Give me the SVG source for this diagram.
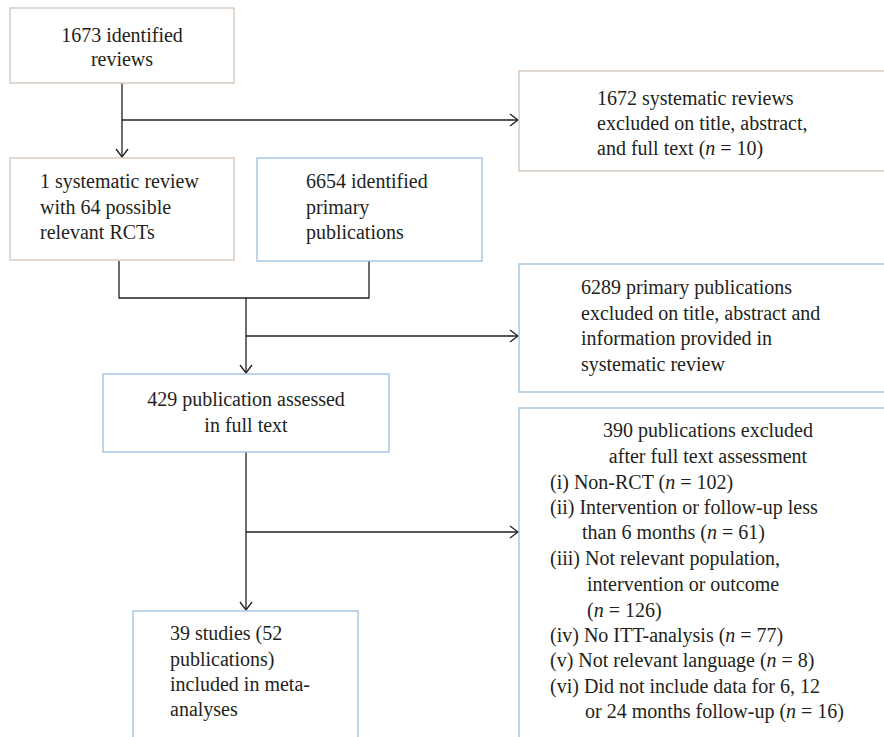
<svg xmlns="http://www.w3.org/2000/svg" width="884" height="737" viewBox="0 0 884 737">
<style>
text{font-family:"Liberation Serif","Times New Roman",serif;font-size:20px;fill:#231f20}
.c{text-anchor:middle}
.i{font-style:italic}
.tan{fill:#fff;stroke:#d6c8bd;stroke-width:1.4}
.blu{fill:#fff;stroke:#a3c3e0;stroke-width:1.4}
.ln{fill:none;stroke:#231f20;stroke-width:1.3}
</style>
<defs>
<marker id="ar" viewBox="0 0 10 14" refX="9" refY="7" markerWidth="10" markerHeight="14" markerUnits="userSpaceOnUse" orient="auto">
<path d="M1,1 L9,7 L1,13" fill="none" stroke="#231f20" stroke-width="1.3"/>
</marker>
</defs>
<rect width="884" height="737" fill="#fff"/>
<g id="connectors">
<path class="ln" d="M122,83 V157" marker-end="url(#ar)"/>
<path class="ln" d="M122,120 H518" marker-end="url(#ar)"/>
<path class="ln" d="M119,261 V298 H369 V261"/>
<path class="ln" d="M246,298 V373" marker-end="url(#ar)"/>
<path class="ln" d="M246,336 H518" marker-end="url(#ar)"/>
<path class="ln" d="M246,452 V610" marker-end="url(#ar)"/>
<path class="ln" d="M246,532 H518" marker-end="url(#ar)"/>
</g>
<g id="n1">
<rect class="tan" x="10" y="8" width="224" height="75"/>
<text class="c" x="122" y="42">1673 identified</text>
<text class="c" x="122" y="66">reviews</text>
</g>
<g id="n2">
<rect class="tan" x="519" y="71" width="371" height="100"/>
<text x="597" y="105">1672 systematic reviews</text>
<text x="597" y="130">excluded on title, abstract,</text>
<text x="597" y="155">and full text (<tspan class="i">n</tspan> = 10)</text>
</g>
<g id="n3">
<rect class="tan" x="10" y="158" width="224" height="102"/>
<text x="40" y="188">1 systematic review</text>
<text x="40" y="214">with 64 possible</text>
<text x="40" y="239">relevant RCTs</text>
</g>
<g id="n4">
<rect class="blu" x="257" y="158" width="225" height="103"/>
<text x="306" y="188">6654 identified</text>
<text x="306" y="214">primary</text>
<text x="306" y="239">publications</text>
</g>
<g id="n5">
<rect class="blu" x="519" y="264" width="371" height="128"/>
<text x="581" y="294">6289 primary publications</text>
<text x="581" y="320">excluded on title, abstract and</text>
<text x="581" y="345">information provided in</text>
<text x="581" y="371">systematic review</text>
</g>
<g id="n6">
<rect class="blu" x="103" y="374" width="286" height="78"/>
<text class="c" x="246" y="406">429 publication assessed</text>
<text class="c" x="246" y="432">in full text</text>
</g>
<g id="n7">
<rect class="blu" x="519" y="408" width="371" height="340"/>
<text class="c" x="708" y="437">390 publications excluded</text>
<text class="c" x="708" y="463">after full text assessment</text>
<text x="550" y="489">(i) Non-RCT (<tspan class="i">n</tspan> = 102)</text>
<text x="550" y="514">(ii) Intervention or follow-up less</text>
<text x="582" y="539">than 6 months (<tspan class="i">n</tspan> = 61)</text>
<text x="550" y="565">(iii) Not relevant population,</text>
<text x="587" y="591">intervention or outcome</text>
<text x="587" y="617">(<tspan class="i">n</tspan> = 126)</text>
<text x="550" y="642">(iv) No ITT-analysis (<tspan class="i">n</tspan> = 77)</text>
<text x="550" y="667">(v) Not relevant language (<tspan class="i">n</tspan> = 8)</text>
<text x="550" y="693">(vi) Did not include data for 6, 12</text>
<text x="585" y="718">or 24 months follow-up (<tspan class="i">n</tspan> = 16)</text>
</g>
<g id="n8">
<rect class="blu" x="133" y="611" width="225" height="140"/>
<text x="170" y="640">39 studies (52</text>
<text x="170" y="666">publications)</text>
<text x="170" y="691">included in meta-</text>
<text x="170" y="716">analyses</text>
</g>
</svg>
